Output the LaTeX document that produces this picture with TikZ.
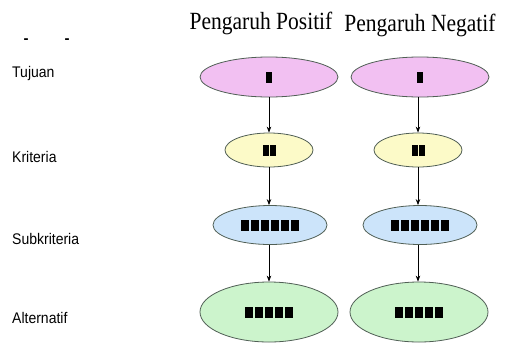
\documentclass[tikz,border=0pt]{standalone}
\usepackage{fontspec}
\setmainfont{Liberation Serif}
\newfontfamily\lblfont{Liberation Sans}
\usetikzlibrary{shapes.geometric,arrows.meta}
\definecolor{pinkfill}{RGB}{242,192,242}
\definecolor{yellowfill}{RGB}{252,250,200}
\definecolor{bluefill}{RGB}{204,228,250}
\definecolor{greenfill}{RGB}{204,244,204}
\definecolor{edgecol}{RGB}{80,95,85}
\tikzset{
  lvl/.style={ellipse, draw=edgecol, line width=0.8pt, inner sep=0pt},
  goal/.style={lvl, fill=pinkfill, minimum width=138pt, minimum height=40pt},
  crit/.style={lvl, fill=yellowfill, minimum width=88pt, minimum height=34pt},
  sub/.style={lvl, fill=bluefill, minimum width=114pt, minimum height=39pt},
  alt/.style={lvl, fill=greenfill, minimum width=138pt, minimum height=60pt},
  title/.style={font=\fontsize{21.5}{22}\selectfont, yscale=1.15, inner sep=0pt},
  side/.style={font=\lblfont\fontsize{14}{14}\selectfont, anchor=west, inner sep=0pt, yscale=1.1},
  dashmark/.style={font=\lblfont\bfseries\fontsize{15}{15}\selectfont, inner sep=0pt},
  conn/.style={-{Stealth[length=6pt,width=4.5pt]}, line width=0.7pt, black},
}
\newcommand{\blk}[1]{\rule{#1}{11pt}}
\begin{document}
\begin{tikzpicture}[x=1pt,y=-1pt]
\path[use as bounding box, fill=white] (0,0) rectangle (510,343);
% titles
\node[title] (tp) at (261,23) {Pengaruh Positif};
\node[title] (tn) at (420,25) {Pengaruh Negatif};
% side labels
\node[dashmark] (d1) at (26,41) {-};
\node[dashmark] (d2) at (67,41) {-};
\node[side] (lt) at (12,74) {Tujuan};
\node[side] (lk) at (12,157) {Kriteria};
\node[side] (ls) at (12,239) {Subkriteria};
\node[side] (la) at (12,318) {Alternatif};
% left column
\node[goal] (g1) at (269,77) {\blk{6pt}};
\node[crit] (k1) at (269,150) {\blk{6pt}\hspace{1pt}\blk{6pt}};
\node[sub] (s1) at (270,225) {\blk{8.5pt}\hspace{1.5pt}\blk{8.5pt}\hspace{1.5pt}\blk{8.5pt}\hspace{1.5pt}\blk{8.5pt}\hspace{1.5pt}\blk{8.5pt}\hspace{1.5pt}\blk{8.5pt}};
\node[alt] (a1) at (269,312) {\blk{8.5pt}\hspace{1.5pt}\blk{8.5pt}\hspace{1.5pt}\blk{8.5pt}\hspace{1.5pt}\blk{8.5pt}\hspace{1.5pt}\blk{8.5pt}};
% right column
\node[goal] (g2) at (420,77) {\blk{6pt}};
\node[crit] (k2) at (418,150) {\blk{6pt}\hspace{1pt}\blk{6pt}};
\node[sub] (s2) at (420,225) {\blk{8.5pt}\hspace{1.5pt}\blk{8.5pt}\hspace{1.5pt}\blk{8.5pt}\hspace{1.5pt}\blk{8.5pt}\hspace{1.5pt}\blk{8.5pt}\hspace{1.5pt}\blk{8.5pt}};
\node[alt] (a2) at (419,312) {\blk{8.5pt}\hspace{1.5pt}\blk{8.5pt}\hspace{1.5pt}\blk{8.5pt}\hspace{1.5pt}\blk{8.5pt}\hspace{1.5pt}\blk{8.5pt}};
% connectors
\draw[conn] (g1.south) -- (k1.north);
\draw[conn] (k1.south) -- (s1.north -| k1.south);
\draw[conn] (s1.south -| k1.south) -- (a1.north -| k1.south);
\draw[conn] (g2.south -| k2.north) -- (k2.north);
\draw[conn] (k2.south) -- (s2.north -| k2.south);
\draw[conn] (s2.south -| k2.south) -- (a2.north -| k2.south);
\end{tikzpicture}
\end{document}
